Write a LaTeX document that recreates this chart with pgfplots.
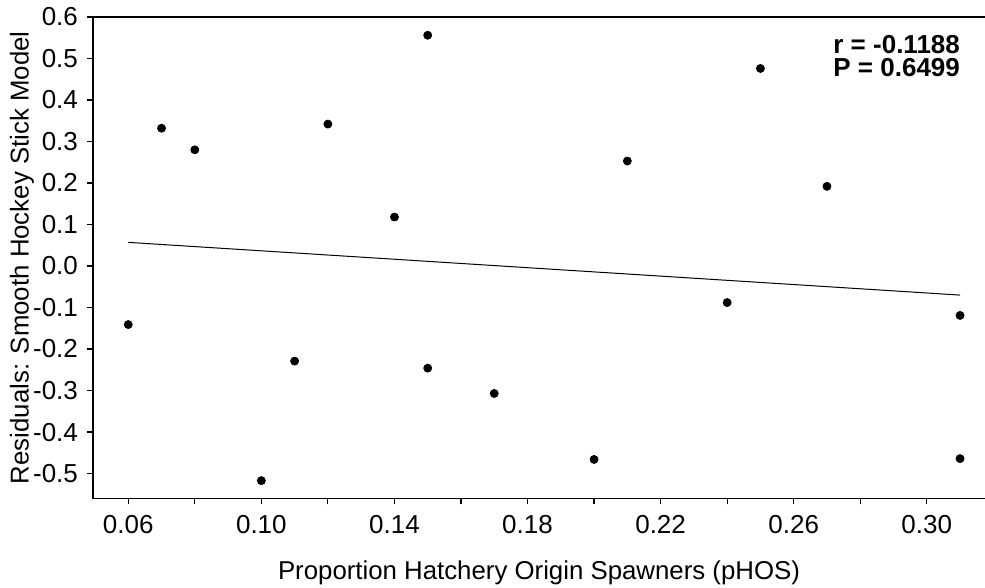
\documentclass[border=0pt]{standalone}
\usepackage{fontspec}
\setmainfont{Liberation Sans}
\usepackage{pgfplots}
\pgfplotsset{compat=1.18}
\begin{document}
\begin{tikzpicture}
\begin{axis}[
  scale only axis, width=446pt, height=240.75pt,
  xmin=0.0494, xmax=0.3175, ymin=-0.56, ymax=0.6,
  axis line style={draw=none},
  tick align=outside, xtick pos=bottom, ytick pos=left,
  major tick length=3pt, minor tick length=3pt,
  tick style={black, line width=0.6pt},
  xtick={0.06,0.10,0.14,0.18,0.22,0.26,0.30},
  xticklabels={0.06,0.10,0.14,0.18,0.22,0.26,0.30},
  minor xtick={0.08,0.12,0.16,0.20,0.24,0.28},
  ytick={-0.5,-0.4,-0.3,-0.2,-0.1,0,0.1,0.2,0.3,0.4,0.5,0.6},
  yticklabels={-0.5,-0.4,-0.3,-0.2,-0.1,0.0,0.1,0.2,0.3,0.4,0.5,0.6},
  ticklabel style={font=\fontsize{13}{15}\selectfont},
  xticklabel style={yshift=-2pt},
  yticklabel style={xshift=-1pt},
  xlabel={Proportion Hatchery Origin Spawners (pHOS)},
  ylabel={Residuals: Smooth Hockey Stick Model},
  label style={font=\fontsize{12.9}{15}\selectfont},
  xlabel style={at={(axis description cs:0.5,0)}, anchor=center, yshift=-37pt},
  ylabel style={at={(axis description cs:0,0.5)}, anchor=center, yshift=35.5pt},
]
\addplot[only marks, mark=*, mark size=2pt, black] coordinates {
  (0.06,-0.141) (0.07,0.332) (0.08,0.280) (0.10,-0.517) (0.11,-0.229)
  (0.12,0.342) (0.14,0.118) (0.15,0.556) (0.15,-0.246) (0.17,-0.307)
  (0.20,-0.466) (0.21,0.253) (0.24,-0.088) (0.25,0.476) (0.27,0.192)
  (0.31,-0.119) (0.31,-0.464)
};
\addplot[black, line width=0.5pt] coordinates {(0.06,0.057) (0.31,-0.070)};
\node[anchor=north west, inner sep=0pt, align=left, font=\bfseries\fontsize{13}{11.5}\selectfont] at (rel axis cs:0.8296,0.962) {r = -0.1188\\P = 0.6499};
\end{axis}
\draw[black, line width=0.7pt] (current axis.south east) -- (current axis.south west) -- (current axis.north west) -- (current axis.north east);
\pgfresetboundingbox
\useasboundingbox ([xshift=-46.5pt,yshift=-44.5pt]current axis.south west) rectangle ([yshift=8.5pt]current axis.north east);
\end{tikzpicture}
\end{document}
